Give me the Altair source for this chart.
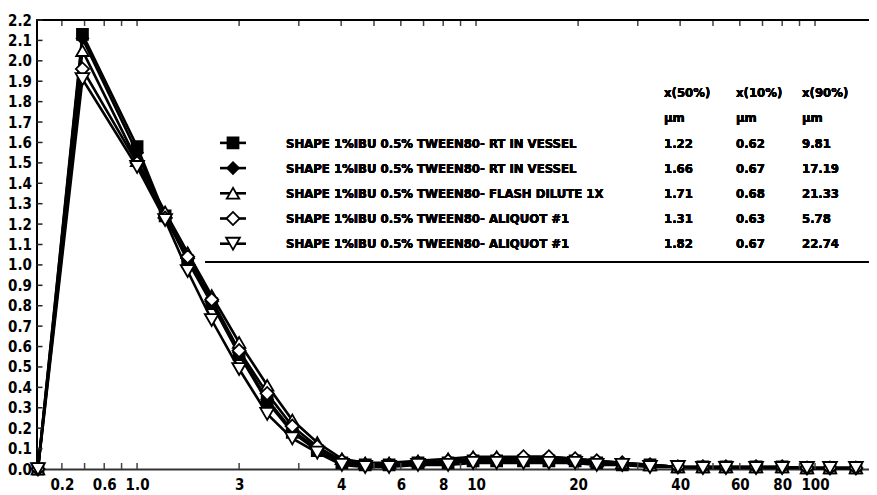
import altair as alt
import pandas as pd

# ---------------- data ----------------
sizes_um = [0.51, 0.69, 1.0, 1.21, 1.41, 1.66, 2.0, 2.42, 2.87, 3.4, 4.02, 4.71, 5.54,
            6.74, 8.27, 9.8, 11.5, 13.8, 16.4, 19.6, 22.7, 27.0, 32.6, 39.4, 46.7,
            54.6, 67.0, 80.0, 94.7, 110.7, 132.0]

s1_values = [0.0, 2.13, 1.58, 1.24, 1.02, 0.81, 0.56, 0.33, 0.18, 0.09, 0.03, 0.02, 0.02,
             0.03, 0.03, 0.04, 0.04, 0.04, 0.04, 0.04, 0.03, 0.02, 0.02, 0.01, 0.01,
             0.01, 0.01, 0.01, 0.005, 0.005, 0.005]
s2_values = [0.0, 2.11, 1.55, 1.24, 1.03, 0.82, 0.57, 0.34, 0.19, 0.10, 0.03, 0.02, 0.02,
             0.03, 0.03, 0.04, 0.05, 0.05, 0.05, 0.04, 0.03, 0.02, 0.02, 0.01, 0.01,
             0.01, 0.01, 0.01, 0.005, 0.005, 0.005]
s3_values = [0.0, 2.05, 1.51, 1.26, 1.06, 0.85, 0.62, 0.41, 0.24, 0.13, 0.05, 0.03, 0.03,
             0.04, 0.05, 0.06, 0.06, 0.06, 0.06, 0.05, 0.04, 0.03, 0.02, 0.01, 0.01,
             0.01, 0.01, 0.01, 0.005, 0.005, 0.005]
s4_values = [0.0, 1.96, 1.50, 1.23, 1.04, 0.83, 0.58, 0.37, 0.21, 0.11, 0.04, 0.02, 0.02,
             0.03, 0.04, 0.05, 0.05, 0.06, 0.06, 0.05, 0.04, 0.03, 0.02, 0.01, 0.01,
             0.01, 0.01, 0.01, 0.005, 0.005, 0.005]
s5_values = [0.0, 1.91, 1.48, 1.22, 0.97, 0.73, 0.49, 0.27, 0.15, 0.08, 0.02, 0.01, 0.01,
             0.02, 0.02, 0.03, 0.03, 0.03, 0.03, 0.03, 0.02, 0.02, 0.01, 0.01, 0.005,
             0.005, 0.005, 0.005, 0.005, 0.005, 0.005]

series_ids = ["S1", "S2", "S3", "S4", "S5"]
series_labels = [
    "SHAPE 1%IBU 0.5% TWEEN80- RT IN VESSEL",
    "SHAPE 1%IBU 0.5% TWEEN80- RT IN VESSEL",
    "SHAPE 1%IBU 0.5% TWEEN80- FLASH DILUTE 1X",
    "SHAPE 1%IBU 0.5% TWEEN80- ALIQUOT #1",
    "SHAPE 1%IBU 0.5% TWEEN80- ALIQUOT #1",
]
x50_values = ["1.22", "1.66", "1.71", "1.31", "1.82"]
x10_values = ["0.62", "0.67", "0.68", "0.63", "0.67"]
x90_values = ["9.81", "17.19", "21.33", "5.78", "22.74"]
column_headers = ["x(50%)", "x(10%)", "x(90%)"]
unit_label = "µm"

x_minor_ticks = [0.6, 0.7, 0.8, 0.9, 1, 2, 3, 4, 5, 6, 7, 8, 9, 10,
                 20, 30, 40, 50, 60, 70, 80, 90, 100]
x_label_ticks = [0.6, 0.8, 1, 2, 4, 6, 8, 10, 20, 40, 60, 80, 100]
x_label_texts = ["0.2", "0.6", "1.0", "3", "4", "6", "8", "10", "20", "40", "60", "80", "100"]
y_ticks = [0.0, 0.1, 0.2, 0.3, 0.4, 0.5, 0.6, 0.7, 0.8, 0.9, 1.0, 1.1,
           1.2, 1.3, 1.4, 1.5, 1.6, 1.7, 1.8, 1.9, 2.0, 2.1, 2.2]

# ---------------- tables ----------------
all_values = [s1_values, s2_values, s3_values, s4_values, s5_values]
rows = []
for sid, vals in zip(series_ids, all_values):
    for xs, v in zip(sizes_um, vals):
        rows.append({"size": xs, "value": v, "sid": sid})
df = pd.DataFrame(rows)

# ---------------- layout / style ----------------
W, H = 832, 449
FONT = "DejaVu Sans Condensed, Liberation Sans Narrow, Arial Narrow, sans-serif"
AXIS_FS = 15
LEG_FS = 13
ROW0 = 72.5       # centre of header row (plot px)
ROW_STEP = 25.2   # legend row spacing (px)

xscale = alt.Scale(type="log", domain=[0.505, 143.8], nice=False)
yscale = alt.Scale(domain=[0, 2.2], nice=False, zero=True)
shape_scale = alt.Scale(domain=series_ids,
                        range=["square", "diamond", "triangle-up", "diamond", "triangle-down"])
fill_scale = alt.Scale(domain=series_ids, range=["black", "black", "white", "white", "white"])
size_scale = alt.Scale(domain=series_ids, range=[120, 190, 170, 190, 170])
sw_scale = alt.Scale(domain=series_ids, range=[2.6, 2.6, 1.0, 1.0, 1.0])

expr = "''"
for v, t in reversed(list(zip(x_label_ticks, x_label_texts))):
    expr = f"datum.value == {v} ? '{t}' : ({expr})"

x_axis = alt.Axis(values=x_label_ticks, labelExpr=expr, ticks=False, tickSize=0, grid=False,
                  domain=True, domainColor="#333333", domainWidth=2, labelPadding=8,
                  labelFlush=False, labelOverlap=False, title=None)
y_axis = alt.Axis(values=y_ticks, format=".1f", ticks=False, tickSize=0, grid=False,
                  domain=True, domainColor="black", domainWidth=2, labelPadding=5,
                  labelFlush=False, labelOverlap=False, title=None)

lines = alt.Chart(df).mark_line(color="black").encode(
    x=alt.X("size:Q", scale=xscale, axis=x_axis),
    y=alt.Y("value:Q", scale=yscale, axis=y_axis),
    detail="sid:N",
    strokeWidth=alt.StrokeWidth("sid:N", scale=sw_scale, legend=None),
)

points = alt.Chart(df).mark_point(stroke="black", strokeWidth=1.8, opacity=1, fillOpacity=1).encode(
    x=alt.X("size:Q", scale=xscale, axis=x_axis),
    y=alt.Y("value:Q", scale=yscale, axis=y_axis),
    shape=alt.Shape("sid:N", scale=shape_scale, legend=None),
    fill=alt.Fill("sid:N", scale=fill_scale, legend=None),
    size=alt.Size("sid:N", scale=size_scale, legend=None),
)

xt_df = pd.DataFrame({"t": x_minor_ticks})
yt_df = pd.DataFrame({"v": y_ticks})

bottom_ticks = alt.Chart(xt_df).mark_rule(color="#444444", strokeWidth=1.5).encode(
    x=alt.X("t:Q", scale=xscale, axis=x_axis), y=alt.value(H), y2=alt.value(H - 6))
top_ticks = alt.Chart(xt_df).mark_rule(color="#444444", strokeWidth=1.5).encode(
    x=alt.X("t:Q", scale=xscale, axis=x_axis), y=alt.value(0), y2=alt.value(6))
top_border = alt.Chart(xt_df).mark_rule(color="black", strokeWidth=1.5).encode(
    x=alt.value(0), x2=alt.value(W), y=alt.value(0))
y_tick_rules = alt.Chart(yt_df).mark_rule(color="#222222", strokeWidth=1.5).encode(
    y=alt.Y("v:Q", scale=yscale, axis=y_axis), x=alt.value(0), x2=alt.value(6))

# ---------------- legend / table ----------------
leg_df = pd.DataFrame({"row": [0, 1, 2, 3, 4], "sid": series_ids, "label": series_labels})

legend_layers = []
for i in range(len(series_ids)):
    yc = ROW0 + ROW_STEP * (i + 2)
    sub = alt.Chart(leg_df).transform_filter(alt.datum.row == i)
    legend_layers.append(sub.mark_rule(color="black").encode(
        x=alt.value(183.5), x2=alt.value(209.5), y=alt.value(yc),
        strokeWidth=alt.StrokeWidth("sid:N", scale=sw_scale, legend=None)))
    legend_layers.append(sub.mark_point(stroke="black", strokeWidth=1.8, opacity=1,
                                        fillOpacity=1).encode(
        x=alt.value(196.5), y=alt.value(yc),
        shape=alt.Shape("sid:N", scale=shape_scale, legend=None),
        fill=alt.Fill("sid:N", scale=fill_scale, legend=None),
        size=alt.Size("sid:N", scale=size_scale, legend=None)))

baseline_shift = 0.36 * LEG_FS
txt = dict(align="left", baseline="alphabetic", font=FONT, fontSize=LEG_FS,
           fontWeight="bold", color="black", lineHeight=ROW_STEP)

legend_layers.append(alt.Chart(leg_df).mark_text(text=series_labels, **txt).encode(
    x=alt.value(249.5), y=alt.value(ROW0 + 2 * ROW_STEP + baseline_shift)))

for header, vals, xpos in zip(column_headers, [x50_values, x10_values, x90_values],
                              [627.5, 699.5, 765.5]):
    legend_layers.append(alt.Chart(leg_df).mark_text(text=[header, unit_label] + vals, **txt).encode(
        x=alt.value(xpos), y=alt.value(ROW0 + baseline_shift)))

legend_layers.append(alt.Chart(leg_df).mark_rule(color="black", strokeWidth=2).encode(
    x=alt.value(168.5), x2=alt.value(W), y=alt.value(242)))

chart = alt.layer(lines, bottom_ticks, top_ticks, top_border, y_tick_rules, points,
                  *legend_layers).properties(
    width=W, height=H,
    autosize=alt.AutoSizeParams(type="none"),
    padding={"left": 28.5, "top": 12, "right": 0, "bottom": 25},
).configure_view(stroke=None).configure_axis(
    labelFont=FONT, labelFontSize=AXIS_FS, labelFontWeight="bold", labelColor="black"
)

chart.save("out.html", embed_options={"renderer": "svg", "actions": False})
